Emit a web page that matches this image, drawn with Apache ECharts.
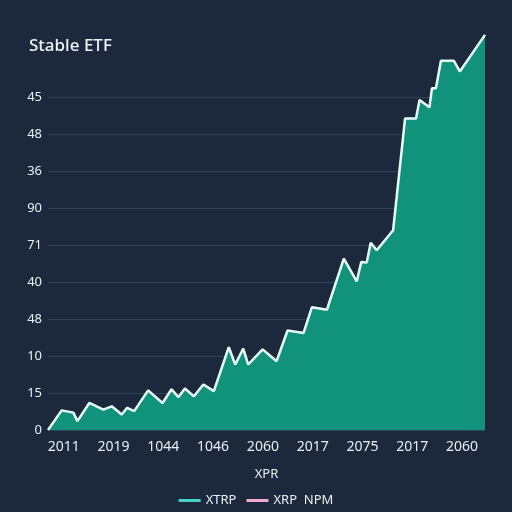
<!DOCTYPE html>
<html>
<head>
<meta charset="utf-8">
<script src="https://cdn.jsdelivr.net/npm/echarts@6/dist/echarts.min.js"></script>
<style>
  html, body { margin: 0; padding: 0; background: #1c293c; }
  #box { width: 512px; height: 512px; }
</style>
</head>
<body>
<div id="box"></div>
<script>
var yLabels = ['0', '15', '10', '48', '40', '71', '90', '36', '48', '45'];
var yTickPos = [0, 1, 2, 3, 4, 5, 6, 7, 8, 9];
var xLabels = ['2011', '2019', '1044', '1046', '2060', '2017', '2075', '2017', '2060'];
var xTickPos = [0.315, 1.315, 2.315, 3.315, 4.315, 5.315, 6.315, 7.315, 8.315];

// x position (in label steps) and height (in y label steps) of each vertex
var xtrpX = [0, 0.275, 0.51, 0.59, 0.83, 1.11, 1.28, 1.48, 1.59, 1.73,
             2.01, 2.30, 2.48, 2.62, 2.75, 2.93, 3.12, 3.33, 3.63, 3.76,
             3.92, 4.02, 4.31, 4.59, 4.81, 5.13, 5.30, 5.60, 5.94, 6.20,
             6.29, 6.40, 6.48, 6.60, 6.93, 7.17, 7.39, 7.46, 7.66, 7.71,
             7.79, 7.89, 8.15, 8.27, 8.775];
var xtrpY = [0, 0.53, 0.47, 0.24, 0.73, 0.55, 0.64, 0.42, 0.60, 0.51,
             1.07, 0.73, 1.10, 0.89, 1.12, 0.91, 1.23, 1.05, 2.24, 1.77,
             2.20, 1.77, 2.18, 1.86, 2.69, 2.62, 3.32, 3.25, 4.63, 4.02,
             4.54, 4.53, 5.06, 4.86, 5.40, 8.42, 8.42, 8.92, 8.72, 9.24,
             9.24, 9.98, 9.98, 9.69, 10.68];
var xrpNpm = [];

var xtrpData = xtrpX.map(function (x, i) { return [x, xtrpY[i]]; });

var myChart = echarts.init(document.getElementById('box'));

option = {
    backgroundColor: '#1c293c',
    textStyle: { fontFamily: 'Noto Sans' },
    title: {
        text: 'Stable ETF',
        left: 24,
        top: 33,
        textStyle: { color: '#eef2f6', fontSize: 17, fontWeight: 500 }
    },
    legend: {
        bottom: 0,
        left: 'center',
        icon: 'rect',
        itemWidth: 22,
        itemHeight: 3,
        itemGap: 10,
        textStyle: { color: '#e8edf2', fontSize: 13 },
        data: [
            { name: 'XTRP', itemStyle: { color: '#44d4c6' } },
            { name: 'XRP  NPM', itemStyle: { color: '#f2a6d2' } }
        ]
    },
    grid: {
        left: 48,
        right: 27,
        top: 33,
        bottom: 82
    },
    xAxis: {
        type: 'value',
        min: 0,
        max: 8.775,
        name: 'XPR',
        nameLocation: 'middle',
        nameGap: 38,
        nameTextStyle: { color: '#e8edf2', fontSize: 13 },
        axisLine: { show: false },
        axisTick: { show: false },
        splitLine: { show: false },
        axisLabel: {
            customValues: xTickPos,
            color: '#e8edf2',
            fontSize: 14,
            margin: 10,
            formatter: function (v) {
                var i = xTickPos.indexOf(v);
                return i >= 0 ? xLabels[i] : '';
            }
        }
    },
    yAxis: {
        type: 'value',
        min: 0,
        max: 10.73,
        axisLine: { show: false },
        axisTick: { show: false, customValues: yTickPos },
        splitLine: { lineStyle: { color: '#33435a', width: 1 } },
        axisLabel: {
            customValues: yTickPos,
            color: '#e8edf2',
            fontSize: 13,
            margin: 6,
            formatter: function (v) { return yLabels[Math.round(v)]; }
        }
    },
    series: [
        {
            name: 'XTRP',
            type: 'line',
            symbol: 'none',
            color: '#44d4c6',
            lineStyle: { color: '#e8fdf8', width: 2.5 },
            areaStyle: { color: '#11937b', opacity: 1 },
            data: xtrpData
        },
        {
            name: 'XRP  NPM',
            type: 'line',
            symbol: 'none',
            color: '#f2a6d2',
            data: xrpNpm
        }
    ]
};
myChart.setOption(option);
</script>
</body>
</html>
